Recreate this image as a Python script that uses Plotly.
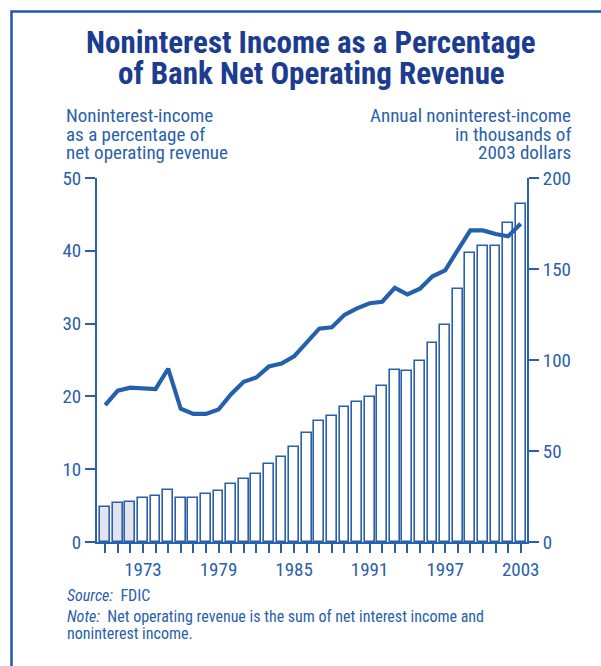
import plotly.graph_objects as go

# Years covered
years = list(range(1970, 2004))

# Annual noninterest income, thousands of 2003 dollars (right axis, bars)
income_thousands = [19.1, 21.4, 22.2, 24.2, 25.1, 28.8, 24.2, 24.2, 26.6, 28.0,
                    31.7, 34.5, 37.6, 42.9, 46.8, 52.4, 59.8, 66.4, 69.5, 74.4,
                    76.8, 79.8, 85.6, 94.6, 93.9, 99.2, 109.5, 119.0, 139.0, 159.0,
                    162.8, 162.8, 175.4, 185.7]

# Noninterest income as a percentage of net operating revenue (left axis, line)
pct_of_revenue = [18.8, 20.8, 21.2, 21.1, 21.0, 23.8, 18.3, 17.6, 17.6, 18.2,
                  20.3, 22.0, 22.6, 24.1, 24.5, 25.5, 27.5, 29.3, 29.5, 31.2,
                  32.1, 32.8, 33.0, 34.9, 34.0, 34.8, 36.5, 37.3, 40.1, 42.8,
                  42.8, 42.3, 42.0, 43.7]

labeled_years = [1973, 1979, 1985, 1991, 1997, 2003]
left_ticks = [0, 10, 20, 30, 40, 50]
right_ticks = [0, 50, 100, 150, 200]

left_title_lines = ["Noninterest-income", "as a percentage of", "net operating revenue"]
right_title_lines = ["Annual noninterest-income", "in thousands of", "2003 dollars"]

BLUE = "#2a5fab"
NAVY = "#1c3c8f"
FONT = "Liberation Sans Narrow, Roboto Condensed, Arial Narrow, Roboto, sans-serif"

W, H = 601, 666
L, R, T, B = 97, 527, 178, 542  # plot area in pixels


def px(x):
    return (x - L) / (R - L)


def py(y):
    return (B - y) / (B - T)


bar_fill = ["#e3e4f0" if y < 1973 else "white" for y in years]

fig = go.Figure()
fig.add_trace(go.Bar(
    x=years, y=income_thousands, width=0.78,
    marker=dict(color=bar_fill, line=dict(color=BLUE, width=1.6)),
    yaxis="y", hoverinfo="skip",
))
fig.add_trace(go.Scatter(
    x=years, y=pct_of_revenue, mode="lines",
    line=dict(color="#2560ad", width=4.2),
    yaxis="y2", hoverinfo="skip",
))

tick_text = [str(y) if y in labeled_years else "" for y in years]
tick_font = dict(size=19, color=BLUE, family=FONT)

fig.update_layout(
    width=W, height=H,
    margin=dict(l=L, r=W - R, t=T, b=H - B, pad=0),
    paper_bgcolor="white", plot_bgcolor="white",
    showlegend=False, bargap=0,
    font=dict(family=FONT, color=BLUE),
    xaxis=dict(
        range=[1969.35, 2003.5], tickvals=years, ticktext=tick_text,
        ticks="outside", ticklen=9, tickwidth=1.5, tickcolor=BLUE,
        showline=True, linecolor=BLUE, linewidth=2,
        showgrid=False, zeroline=False, tickfont=tick_font,
    ),
    yaxis=dict(
        side="right", range=[0, 200], tickvals=right_ticks,
        ticks="outside", ticklen=10, tickwidth=1.5, tickcolor=BLUE,
        showline=True, linecolor=BLUE, linewidth=2,
        showgrid=False, zeroline=False, tickfont=tick_font,
    ),
    yaxis2=dict(
        overlaying="y", side="left", range=[0, 50], tickvals=left_ticks,
        ticks="outside", ticklen=10, tickwidth=1.5, tickcolor=BLUE,
        showline=True, linecolor=BLUE, linewidth=2,
        showgrid=False, zeroline=False, tickfont=tick_font,
    ),
)

annotations = [
    # Title
    dict(text="<b>Noninterest Income as a Percentage</b>",
         x=px(311), y=py(42), xanchor="center", yanchor="middle",
         font=dict(size=31, color=NAVY, family=FONT), showarrow=False),
    dict(text="<b>of Bank Net Operating Revenue</b>",
         x=px(311), y=py(74), xanchor="center", yanchor="middle",
         font=dict(size=31, color=NAVY, family=FONT), showarrow=False),
    # Source and note
    dict(text="<i>Source:</i>  FDIC",
         x=px(65), y=py(595), xanchor="left", yanchor="middle",
         font=dict(size=16, color=BLUE, family=FONT), showarrow=False),
    dict(text="<i>Note:</i>  Net operating revenue is the sum of net interest income and",
         x=px(65), y=py(616), xanchor="left", yanchor="middle",
         font=dict(size=16, color=BLUE, family=FONT), showarrow=False),
    dict(text="noninterest income.",
         x=px(65), y=py(633), xanchor="left", yanchor="middle",
         font=dict(size=16, color=BLUE, family=FONT), showarrow=False),
    # Figure label above the frame
    dict(text="Figure", x=px(10), y=py(-10), xanchor="left", yanchor="middle",
         font=dict(size=15, color="#222222", family=FONT), showarrow=False),
]
# Axis titles, one line each
for i, line in enumerate(left_title_lines):
    annotations.append(dict(text=line, x=px(64), y=py(116 + 18 * i),
                            xanchor="left", yanchor="middle",
                            font=dict(size=19, color=BLUE, family=FONT),
                            showarrow=False))
for i, line in enumerate(right_title_lines):
    annotations.append(dict(text=line, x=px(573), y=py(116 + 18 * i),
                            xanchor="right", yanchor="middle",
                            font=dict(size=19, color=BLUE, family=FONT),
                            showarrow=False))
for a in annotations:
    a["xref"] = "paper"
    a["yref"] = "paper"
fig.update_layout(annotations=annotations)

# Frame around the figure panel
fig.add_shape(type="rect", xref="paper", yref="paper",
              x0=px(11.5), x1=px(620), y0=py(690), y1=py(11.5),
              line=dict(color="#1f5aa8", width=2.5), fillcolor="rgba(0,0,0,0)",
              layer="below")

fig.write_html("out.html")
